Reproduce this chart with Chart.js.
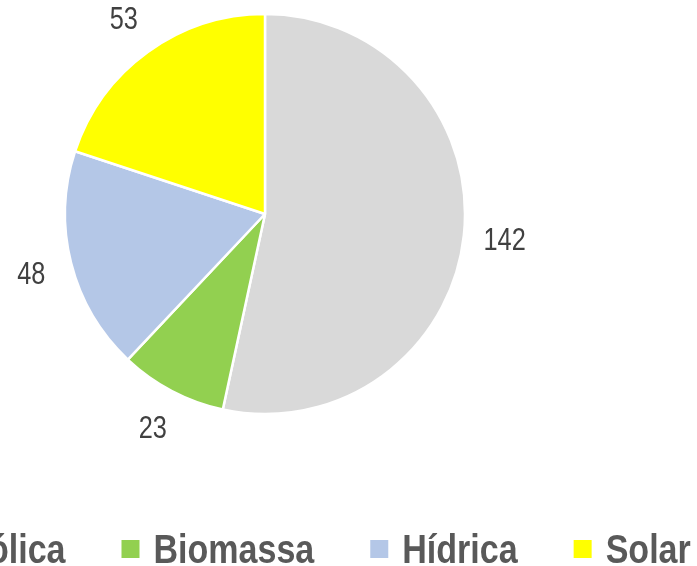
<!DOCTYPE html>
<html>
<head>
<meta charset="utf-8">
<script src="https://cdn.jsdelivr.net/npm/chart.js@4.4.1/dist/chart.umd.min.js"></script>
<style>
  html, body { margin: 0; padding: 0; background: #fff; width: 697px; height: 566px; overflow: hidden; }
  #wrap { position: absolute; left: 0; top: 0; width: 697px; height: 566px; }
</style>
</head>
<body>
<div id="wrap"><canvas id="chart1"></canvas></div>
<script>
const categories = ['Eólica', 'Biomassa', 'Hídrica', 'Solar'];
const values = [142, 23, 48, 53];
const sliceColors = ['#D9D9D9', '#92D050', '#B4C7E7', '#FFFF00'];

// no narrow font installed, so squeeze Liberation Sans to look like Arial Narrow
const FONT = "'Liberation Sans', Arial, sans-serif";
const SQUEEZE = 0.83;
const LEGEND_CENTER_X = 312;

function narrowText(ctx, text, x, y) {
  ctx.save();
  ctx.translate(x, y);
  ctx.scale(SQUEEZE, 1);
  ctx.fillText(text, 0, 0);
  ctx.restore();
}

// value labels just outside each slice
const outsideLabels = {
  id: 'outsideLabels',
  afterDatasetsDraw(chart) {
    const ctx = chart.ctx;
    const meta = chart.getDatasetMeta(0);
    ctx.save();
    ctx.font = '30.5px ' + FONT;
    ctx.fillStyle = '#404040';
    ctx.textAlign = 'center';
    ctx.textBaseline = 'middle';
    meta.data.forEach((arc, i) => {
      const p = arc.getProps(['x', 'y', 'startAngle', 'endAngle', 'outerRadius'], true);
      const mid = (p.startAngle + p.endAngle) / 2;
      const r = p.outerRadius + 41;
      narrowText(ctx, String(values[i]), p.x + Math.cos(mid) * r, p.y + Math.sin(mid) * r + 2);
    });
    ctx.restore();
  }
};

// bottom legend, drawn by hand so the text can be narrow
const narrowLegend = {
  id: 'narrowLegend',
  afterDraw(chart) {
    const ctx = chart.ctx;
    const meta = chart.getDatasetMeta(0);
    const box = 18, gapText = 14, gapItem = 56;
    const baseline = chart.height - 3;
    ctx.save();
    ctx.font = 'bold 41px ' + FONT;
    ctx.textAlign = 'left';
    ctx.textBaseline = 'alphabetic';
    const widths = categories.map(t => ctx.measureText(t).width * SQUEEZE);
    const total = widths.reduce((s, w) => s + box + gapText + w, 0) + gapItem * (categories.length - 1);
    let x = LEGEND_CENTER_X - total / 2;
    categories.forEach((t, i) => {
      ctx.fillStyle = meta.data[i].options.backgroundColor;
      ctx.fillRect(x, baseline - 23, box, box);
      x += box + gapText;
      ctx.fillStyle = '#595959';
      narrowText(ctx, t, x, baseline);
      x += widths[i] + gapItem;
    });
    ctx.restore();
  }
};

const ctx1 = document.getElementById('chart1').getContext('2d');
const chart1 = new Chart(ctx1, {
  type: 'pie',
  data: {
    labels: categories,
    datasets: [{
      data: values,
      backgroundColor: sliceColors,
      borderColor: '#FFFFFF',
      borderWidth: 2.5
    }]
  },
  options: {
    responsive: true,
    maintainAspectRatio: false,
    animation: false,
    radius: 200,
    layout: { padding: { left: 0, right: 167, top: 0, bottom: 138 } },
    plugins: {
      tooltip: { enabled: false },
      legend: { display: false }
    }
  },
  plugins: [outsideLabels, narrowLegend]
});
</script>
</body>
</html>
